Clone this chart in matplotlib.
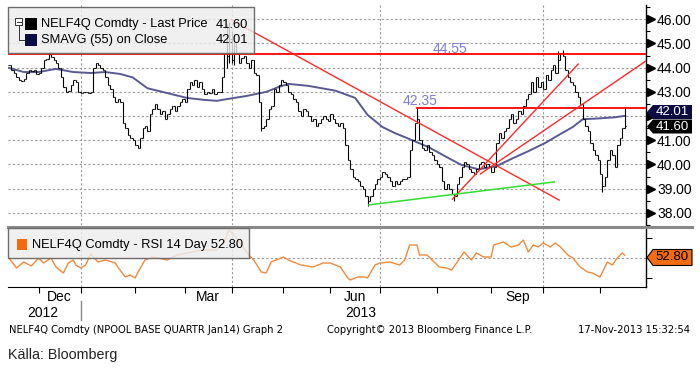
import numpy as np
import pandas as pd
import matplotlib
matplotlib.use("Agg")
import matplotlib.pyplot as plt
from matplotlib.collections import LineCollection
from matplotlib.patches import Rectangle, Polygon
from matplotlib.lines import Line2D
from matplotlib.transforms import blended_transform_factory as blend, offset_copy

plt.rcParams['font.family'] = ['Liberation Sans', 'DejaVu Sans']

# ------------------------------------------------------------------ data
start_date = "2012-11-15"
end_date = "2013-11-15"
holidays = ["2012-12-24", "2012-12-25", "2012-12-26", "2012-12-31", "2013-01-01",
            "2013-03-28", "2013-03-29", "2013-04-01", "2013-05-01", "2013-05-09",
            "2013-05-17", "2013-05-20"]

close = [44.1, 43.9, 43.8, 43.6, 43.5, 43.45, 43.55, 43.8, 43.9, 43.85, 43.9, 43.75,
         43.8, 44.0, 44.3, 44.35, 44.55, 44.45, 44.3, 44.2, 44.0, 43.6, 43.2, 43.0,
         43.05, 43.3, 43.5, 43.4, 43.0, 42.95, 43.0, 43.0, 42.95, 43.0, 44.0, 44.2,
         44.1, 44.0, 43.9, 43.6, 43.3, 43.1, 42.8, 42.6, 42.7, 42.6, 41.7, 41.5,
         41.2, 41.1, 41.0, 40.8, 40.7, 41.1, 41.5, 41.6, 41.4, 42.1, 42.3, 42.5,
         42.3, 42.1, 42.2, 41.9, 42.1, 42.3, 42.4, 42.2, 42.4, 42.6, 42.7, 42.6,
         43.1, 43.4, 43.3, 43.5, 43.2, 43.4, 43.1, 42.9, 43.0, 42.95, 43.1, 42.9,
         43.0, 43.0, 43.6, 44.6, 44.5, 45.2, 44.3, 44.9, 44.6, 44.2, 44.4, 44.5,
         44.2, 44.0, 44.3, 43.8, 43.7, 42.6, 41.5, 41.6, 41.9, 42.3, 42.4, 43.1,
         43.0, 43.3, 43.5, 43.4, 43.3, 43.0, 42.9, 42.7, 42.6, 42.2, 42.0, 42.3,
         42.2, 42.0, 41.8, 41.9, 41.6, 41.7, 41.9, 42.0, 41.9, 41.8, 42.1, 41.9,
         41.7, 41.6, 41.7, 41.5, 40.8, 40.2, 39.8, 39.5, 39.4, 39.3, 39.1, 39.0,
         38.7, 38.5, 38.7, 39.0, 39.2, 39.4, 39.5, 39.7, 39.6, 39.5, 39.3, 39.1,
         39.3, 39.2, 39.3, 39.4, 39.4, 39.5, 40.6, 41.0, 41.7, 41.9, 41.0, 40.7,
         40.6, 40.8, 40.5, 40.4, 40.2, 40.0, 39.9, 39.3, 39.0, 39.2, 39.0, 38.8,
         38.7, 39.2, 39.5, 39.9, 40.1, 40.0, 39.8, 39.7, 39.6, 39.8, 40.0, 40.1,
         39.9, 40.0, 39.9, 39.7, 39.9, 40.9, 41.3, 41.1, 41.4, 41.5, 41.9, 42.1,
         41.7, 41.9, 42.2, 42.1, 42.4, 42.7, 42.9, 43.4, 43.0, 43.6, 43.2, 43.4,
         43.1, 43.7, 43.5, 43.9, 44.1, 43.8, 44.3, 44.6, 44.5, 43.9, 43.6, 43.4,
         43.3, 43.0, 42.8, 42.5, 41.9, 41.6, 41.4, 40.9, 40.6, 40.4, 40.2, 39.6,
         39.1, 39.5, 40.2, 40.6, 40.4, 39.9, 40.8, 41.1, 41.5, 41.6]

high_day = [16, 88, 89, 90, 91, 92, 165, 222, 224, 249]
high_val = [44.65, 45.8, 45.9, 45.5, 45.4, 45.0, 42.35, 44.7, 44.75, 42.35]
low_day = [88, 89, 90, 91, 102, 145, 180, 240]
low_val = [44.0, 44.2, 44.2, 44.1, 41.4, 38.3, 38.5, 38.85]

sma_day = [0, 6, 12, 19, 26, 33, 39, 45, 50, 56, 64, 72, 79, 84, 88, 96, 104, 109,
           113, 121, 132, 140, 145, 151, 156, 162, 170, 178, 183, 190, 197, 204,
           210, 217, 222, 228, 232, 238, 245, 249]
sma_val = [43.99, 43.82, 43.82, 43.95, 43.82, 43.78, 43.82, 43.74, 43.6, 43.15,
           42.95, 42.75, 42.67, 42.63, 42.7, 42.83, 43.0, 43.2, 43.33, 43.25,
           43.05, 42.75, 42.05, 41.55, 41.3, 41.05, 40.7, 40.25, 39.98, 39.8,
           39.93, 40.27, 40.55, 40.9, 41.2, 41.55, 41.87, 41.9, 41.95, 42.01]

rsi_day = [0, 3, 6, 9, 12, 14, 17, 19, 22, 24, 26, 27, 29, 31, 33, 36, 39, 43, 44, 47,
           49, 51, 52, 55, 58, 60, 64, 68, 72, 78, 84, 87, 89, 92, 94, 97, 99, 102,
           104, 106, 111, 113, 118, 123, 127, 130, 134, 137, 138, 141, 144, 145,
           148, 150, 154, 158, 160, 162, 165, 166, 169, 174, 177, 179, 181, 184,
           187, 189, 192, 195, 196, 200, 203, 206, 208, 210, 212, 214, 216, 219,
           221, 223, 226, 228, 231, 234, 236, 239, 242, 244, 246, 248, 249]
rsi_val = [50, 40, 46, 42, 50, 45, 50, 41, 35, 45, 48, 43, 40, 43, 54, 46, 48, 45, 41, 31,
           33, 30, 35, 48, 51, 50, 48, 53, 55, 58, 58, 66, 78, 70, 63, 53, 48, 36, 35, 46,
           51, 48, 43, 41, 45, 45, 41, 30, 28, 31, 31, 30, 43, 45, 46, 43, 48, 63, 63, 53,
           53, 41, 40, 38, 45, 56, 48, 55, 51, 51, 63, 66, 61, 63, 68, 56, 63, 61, 65, 61,
           65, 61, 53, 50, 41, 36, 35, 31, 46, 43, 50, 55, 52.8]

level_high = 44.55
level_low = 42.35
level_low_start = 165
red_down = ([90, 222.5], [45.97, 38.53])
red_up1 = ([179.3, 230.2], [38.57, 44.15])
red_up2 = ([190.6, 257.6], [39.61, 44.28])
green_up = ([145.5, 220.5], [38.33, 39.28])

last_price = 41.60
last_sma = 42.01
last_rsi = 52.80
price_ticks = [38, 39, 40, 41, 42, 43, 44, 45, 46]
price_tick_labels = ["38.00", "39.00", "40.00", "41.00", "", "43.00", "44.00", "45.00", "46.00"]

# ------------------------------------------------------------------ calendar
cal = pd.bdate_range(start_date, end_date)
cal = cal[~cal.isin(pd.to_datetime(holidays))]
pos = np.arange(len(cal))
ym = cal.year * 100 + cal.month
month_start = [int(p) for p in pos[1:] if ym[p] != ym[p - 1]]
month_start_dates = [cal[p] for p in month_start]

# ------------------------------------------------------------------ figure
W, H = 700, 371
fig = plt.figure(figsize=(W / 100, H / 100), dpi=100)


def fx(px):
    return px / W


def fy(py):
    return 1 - py / H


ax = fig.add_axes([fx(8), fy(225), fx(646) - fx(8), fy(5) - fy(225)])
ax2 = fig.add_axes([fx(8), fy(287), fx(646) - fx(8), fy(228) - fy(287)])
XMIN, XMAX = -0.4, 257.6
for a in (ax, ax2):
    a.set_xlim(XMIN, XMAX)
    a.spines['left'].set_visible(False)
    a.spines['top'].set_visible(False)
    a.spines['right'].set_linewidth(1.0)
    a.patch.set_visible(False)
ax.spines['bottom'].set_visible(False)
ax.set_ylim(37.5, 46.59)
ax2.set_ylim(21, 80)

grid_kw = dict(color='#9a9a9a', lw=0.8, ls=(0, (2, 2)), zorder=1)
for v in price_ticks:
    ax.axhline(v, **grid_kw)
ax2.axhline(50, **grid_kw)
for p, d in zip(month_start, month_start_dates):
    if d.month in (1, 4, 7, 10):
        ax.axvline(p, **grid_kw)
        ax2.axvline(p, **grid_kw)

# price bars
c = np.array(close)
n = len(c)
o = np.r_[c[0], c[:-1]]
hi = np.maximum(o, c)
lo = np.minimum(o, c)
for d, v in zip(high_day, high_val):
    hi[d] = max(hi[d], v)
for d, v in zip(low_day, low_val):
    lo[d] = min(lo[d], v)
segs = []
for i in range(n):
    segs.append([(i, lo[i]), (i, hi[i])])
    segs.append([(i - 0.5, o[i]), (i, o[i])])
    segs.append([(i, c[i]), (i + 0.5, c[i])])
ax.add_collection(LineCollection(segs, colors='black', linewidths=0.8, zorder=4))

ax.plot(sma_day, sma_val, color='#5a5a92', lw=1.4, zorder=3)

# drawn studies
ax.axhline(level_high, color='#ff0000', lw=1.3, zorder=5)
ax.plot([level_low_start, XMAX], [level_low, level_low], color='#ff0000', lw=1.3, zorder=5)
for xs, ys in (red_down, red_up1, red_up2):
    ax.plot(xs, ys, color='#ff2a2a', lw=1.0, zorder=5)
ax.plot(green_up[0], green_up[1], color='#33dd33', lw=1.1, zorder=5)
ax.text(171.3, 44.61, f"{level_high:.2f}", color='#7c7cd8', fontsize=10, va='baseline', zorder=6)
ax.text(159.2, 42.46, f"{level_low:.2f}", color='#7c7cd8', fontsize=10, va='baseline', zorder=6)

# RSI
ax2.plot(rsi_day, rsi_val, color='#f08a3c', lw=1.0, zorder=3)

# axes / ticks
ax.yaxis.tick_right()
ax.set_yticks(price_ticks)
ax.set_yticklabels(price_tick_labels)
ax.set_yticks(np.arange(37.5, 46.6, 0.5), minor=True)
ax.tick_params(axis='y', which='major', length=0, pad=8, labelsize=10)
ax.tick_params(axis='y', which='minor', length=3, width=0.8, direction='out')
ax.tick_params(axis='x', bottom=False, labelbottom=False)
tri_tr = offset_copy(blend(ax.transAxes, ax.transData), fig=fig, x=4.5, units='dots')
ax.plot(np.ones(len(price_ticks)), price_ticks, ls='none', marker='>', ms=6,
        color='black', transform=tri_tr, clip_on=False)

ax2.yaxis.tick_right()
ax2.set_yticks([30, 50, 70])
ax2.set_yticklabels([])
ax2.tick_params(axis='y', length=4, width=0.8)
ax2.set_xticks(month_start)
ax2.set_xticklabels([])
ax2.tick_params(axis='x', length=4, width=0.8, direction='out')

tx = blend(ax2.transData, fig.transFigure)
for k, (p, d) in enumerate(zip(month_start, month_start_dates)):
    if d.month in (12, 3, 6, 9):
        nxt = month_start[k + 1] if k + 1 < len(month_start) else n
        fig.text((p + nxt) / 2, fy(297), d.strftime('%b'), transform=tx,
                 ha='center', va='center', fontsize=10)
fig.text(fx(43), fy(313), '2012', ha='center', va='center', fontsize=10)
fig.text(fx(361), fy(313), '2013', ha='center', va='center', fontsize=10)
jan = [p for p, d in zip(month_start, month_start_dates) if d.month == 1][0]
fig.add_artist(Line2D([jan, jan], [fy(301), fy(320)], transform=tx, color='#888888', lw=1))

# separator
fig.add_artist(Line2D([fx(8), fx(692)], [fy(226.5), fy(226.5)], color='#8a8a8a', lw=2.2, zorder=6))

# legends
T = fig.transFigure


def rect(x0, y0, x1, y1, **kw):
    fig.add_artist(Rectangle((fx(x0), fy(y1)), fx(x1) - fx(x0), fy(y0) - fy(y1), transform=T, **kw))


rect(8, 7, 254, 53, facecolor=(0.93, 0.93, 0.93, 0.82), edgecolor='#6d6d6d', lw=1.0, zorder=7)
rect(15, 18, 22, 25, facecolor='white', edgecolor='#333333', lw=0.7, zorder=8)
fig.add_artist(Line2D([fx(16.5), fx(20.5)], [fy(21.5)] * 2, color='#333333', lw=0.7, zorder=8))
fig.add_artist(Line2D([fx(18.5), fx(18.5), fx(24)], [fy(25), fy(40), fy(40)], color='#333333', lw=0.7, zorder=8))
rect(25, 18, 37, 30, facecolor='black', edgecolor='none', zorder=8)
rect(25, 34, 37, 46, facecolor='#0c0c44', edgecolor='none', zorder=8)
fig.text(fx(41), fy(24.5), 'NELF4Q Comdty - Last Price', va='center', fontsize=9.3, zorder=9)
fig.text(fx(248), fy(24.5), f"{last_price:.2f}", va='center', ha='right', fontsize=9.3, zorder=9)
fig.text(fx(41), fy(40), 'SMAVG (55) on Close', va='center', fontsize=9.3, zorder=9)
fig.text(fx(248), fy(40), f"{last_sma:.2f}", va='center', ha='right', fontsize=9.3, zorder=9)

rect(8, 228, 249, 258, facecolor=(0.93, 0.93, 0.93, 0.82), edgecolor='#6d6d6d', lw=1.0, zorder=7)
rect(17, 239, 27, 250, facecolor='#f26b0f', edgecolor='none', zorder=8)
fig.text(fx(32), fy(245), f"NELF4Q Comdty - RSI 14 Day {last_rsi:.2f}", va='center', fontsize=9.3, zorder=9)


def value_box(yc, text, face, tcolor, edge='none', half=8):
    pts = [(fx(647), fy(yc)), (fx(653), fy(yc - half)), (fx(692), fy(yc - half)),
           (fx(692), fy(yc + half)), (fx(653), fy(yc + half))]
    fig.add_artist(Polygon(pts, closed=True, transform=T, facecolor=face,
                           edgecolor=edge, lw=0.8, zorder=8))
    fig.text(fx(672), fy(yc), text, ha='center', va='center', color=tcolor, fontsize=9.5, zorder=9)


value_box(112, f"{last_sma:.2f}", '#0c0c40', 'white', half=7)
value_box(126.5, f"{last_price:.2f}", 'black', 'white', half=7)
value_box(257.5, f"{last_rsi:.2f}", '#f36c12', 'black', edge='black')

# footer
fig.text(fx(9), fy(330), 'NELF4Q Comdty (NPOOL BASE QUARTR Jan14) Graph 2', va='center',
         fontsize=7.2, family='DejaVu Sans')
fig.text(fx(327), fy(330), 'Copyright\u00a9 2013 Bloomberg Finance L.P.', va='center',
         fontsize=7.2, family='DejaVu Sans')
fig.text(fx(690), fy(330), '17-Nov-2013 15:32:54', va='center', ha='right',
         fontsize=7.2, family='DejaVu Sans')
fig.text(fx(8), fy(355), 'K\u00e4lla: Bloomberg', va='center', fontsize=10.3, color='#222222')

fig.savefig('out.png', dpi=100)
